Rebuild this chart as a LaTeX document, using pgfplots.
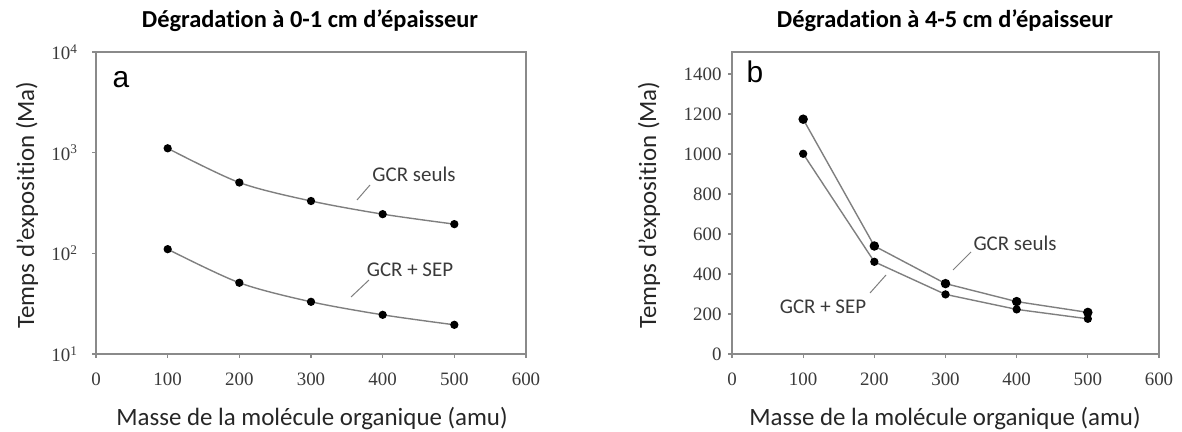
\documentclass[border=0pt]{standalone}
\usepackage{pgfplots}
\pgfplotsset{compat=1.18}
\usepackage{fontspec}
\setmainfont{Carlito}[Ligatures=NoCommon]
\newfontfamily\tickfont{Liberation Serif}
\newfontfamily\arialfont{Liberation Sans}
\definecolor{axgray}{HTML}{8A8A8A}
\definecolor{linegray}{HTML}{7F7F7F}
\definecolor{txtgray}{HTML}{3A3A3A}
\pgfplotsset{
  common/.style={
    scale only axis, clip=false,
    axis line style={axgray, line width=1.3bp},
    tick style={axgray, line width=1.1bp},
    tick align=outside, major tick length=4bp,
    xtick pos=bottom, ytick pos=left,
    xmin=0, xmax=600, xtick={0,100,...,600},
    ticklabel style={font=\tickfont\fontsize{19}{19}\selectfont, text=txtgray},
    /pgf/number format/assume math mode=true,
    /pgf/number format/1000 sep={},
    xticklabel style={yshift=-11bp},
    yticklabel style={xshift=-3bp},
    minor tick num=0,
  },
  ser/.style={linegray, line width=1.4bp, mark=*, mark options={black, fill=black, solid}},
}
\begin{document}
\begin{tikzpicture}
\useasboundingbox (0bp,0bp) rectangle (1182bp,432bp);
% ---------- left ----------
\begin{axis}[common, at={(96bp,78bp)}, anchor=south west, width=430bp, height=302bp,
  ymode=log, ymin=10, ymax=10000, ytick={10,100,1000,10000},
  yticklabels={10\textsuperscript{1},10\textsuperscript{2},10\textsuperscript{3},10\textsuperscript{4}},
  yticklabel style={xshift=-8bp},
  minor ytick={}, log basis y=10]
\addplot[ser, smooth, mark size=3.4bp] coordinates {(100,1105) (200,505) (300,331) (400,245) (500,195)};
\addplot[ser, smooth, mark size=3.4bp] coordinates {(100,110) (200,51) (300,33) (400,24.5) (500,19.5)};
\end{axis}
% ---------- right ----------
\begin{axis}[common, at={(732bp,78bp)}, anchor=south west, width=427bp, height=302bp,
  ymin=0, ymax=1510, ytick={0,200,...,1400}]
\addplot[ser, mark size=4bp] coordinates {(100,1174) (200,540) (300,352) (400,262) (500,208)};
\addplot[ser, mark size=3.4bp] coordinates {(100,1001) (200,461) (300,298) (400,223) (500,176)};
\end{axis}
% ---------- texts ----------
\node[anchor=base, font=\bfseries\fontsize{24.5}{24.5}\selectfont] at (310bp,404bp) {Dégradation à 0-1 cm d’épaisseur};
\node[anchor=base, font=\bfseries\fontsize{24.5}{24.5}\selectfont] at (945bp,404bp) {Dégradation à 4-5 cm d’épaisseur};
\node[anchor=base, font=\fontsize{25}{25}\selectfont, text=black!85] at (312bp,7bp) {Masse de la molécule organique (amu)};
\node[anchor=base, font=\fontsize{25}{25}\selectfont, text=black!85] at (945bp,7bp) {Masse de la molécule organique (amu)};
\node[anchor=base, rotate=90, font=\fontsize{25}{25}\selectfont, text=black!85] at (34bp,227bp) {Temps d’exposition (Ma)};
\node[anchor=base, rotate=90, font=\fontsize{25}{25}\selectfont, text=black!85] at (656bp,227bp) {Temps d’exposition (Ma)};
\node[anchor=base west, font=\arialfont\fontsize{30}{30}\selectfont] at (109bp,344bp) {a};
\node[anchor=base west, font=\arialfont\fontsize{30}{30}\selectfont] at (743bp,349bp) {b};
% annotations
\node[font=\fontsize{21}{21}\selectfont, text=txtgray] at (414bp,258bp) {GCR seuls};
\draw[linegray, line width=1bp] (357bp,232bp) -- (370bp,247bp);
\node[font=\fontsize{21}{21}\selectfont, text=txtgray] at (410bp,162bp) {GCR + SEP};
\draw[linegray, line width=1bp] (351bp,135bp) -- (369bp,152bp);
\node[font=\fontsize{21}{21}\selectfont, text=txtgray] at (1015bp,189bp) {GCR seuls};
\draw[linegray, line width=1bp] (953bp,162bp) -- (971bp,180bp);
\node[font=\fontsize{21}{21}\selectfont, text=txtgray] at (823bp,125bp) {GCR + SEP};
\draw[linegray, line width=1bp] (870bp,139bp) -- (886bp,157bp);
\end{tikzpicture}
\end{document}
